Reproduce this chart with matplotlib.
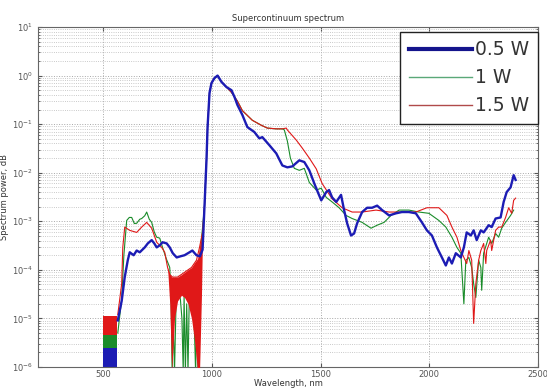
import matplotlib
matplotlib.use("Agg")
import matplotlib.pyplot as plt
from matplotlib.ticker import FixedLocator, NullFormatter, LogFormatterSciNotation

# ---------------- data ----------------
# 0.5 W (blue)
wl_blue = [567, 585, 599, 613, 622, 640, 654, 668, 691, 705, 723, 735, 746, 760, 773, 792,
           806, 820, 838, 855, 874, 897, 910, 929, 945, 957, 966, 975, 980, 989, 998, 1012,
           1026, 1044, 1067, 1090, 1104, 1117, 1140, 1163, 1195, 1218, 1232, 1264, 1296, 1324,
           1347, 1370, 1402, 1425, 1448, 1471, 1489, 1503, 1526, 1539, 1553, 1572, 1594, 1608,
           1622, 1640, 1654, 1668, 1691, 1714, 1737, 1760, 1783, 1815, 1847, 1874, 1906, 1938,
           1966, 1989, 2012, 2035, 2058, 2076, 2090, 2104, 2122, 2145, 2159, 2172, 2191, 2204,
           2218, 2237, 2250, 2273, 2287, 2305, 2328, 2342, 2356, 2374, 2388, 2397]
p_blue = [9.1e-6, 2.3e-5, 7.1e-5, 1.58e-4, 2.3e-4, 2.0e-4, 2.5e-4, 2.3e-4, 2.9e-4, 3.5e-4,
          4.1e-4, 3.5e-4, 2.9e-4, 3.2e-4, 3.7e-4, 3.5e-4, 2.9e-4, 2.2e-4, 1.8e-4, 1.9e-4,
          2.0e-4, 2.3e-4, 2.5e-4, 2.0e-4, 1.9e-4, 2.6e-4, 2.1e-3, 1.8e-2, 8.7e-2, 0.44, 0.70, 0.89,
          1.0, 0.74, 0.58, 0.50, 0.36, 0.25, 0.155, 0.087, 0.069, 0.051, 0.054, 0.037, 0.025, 0.0141,
          0.0129, 0.0135, 0.018, 0.0166, 0.0112, 0.006, 0.0038, 0.0027, 0.0040, 0.0044,
          0.0031, 0.0025, 0.0035, 0.0017, 0.00091, 0.00051, 0.00056, 0.00091, 0.00155, 0.0019,
          0.0019, 0.0021, 0.0017, 0.00132, 0.00146, 0.00155, 0.00155, 0.00146,
          0.00095, 0.00065, 0.00051, 0.00029, 0.00018, 0.000123, 0.00018, 0.000135, 0.00022,
          0.00018, 0.00029, 0.00059, 0.00051, 0.00065, 0.00041, 0.00065, 0.00059, 0.00083,
          0.00076, 0.00114, 0.0012, 0.0025, 0.0040, 0.0050, 0.0089, 0.0071]
# blue noise band at the short-wavelength edge
wl_blue_noise = [498, 562]
lo_blue_noise = [8e-7, 8e-7]
hi_blue_noise = [4.9e-6, 4.9e-6]

# 1 W (green)
wl_green = [567, 585, 595, 608, 620, 631, 643, 654, 668, 677, 691, 700, 712, 723, 735, 746,
            760, 773, 790, 806, 812, 817, 822, 828, 835, 845, 855, 862, 868, 872, 878, 884,
            890, 896, 905, 915, 925, 930, 936, 945, 955, 966, 975, 980, 989, 998, 1012,
            1026, 1044, 1067, 1090, 1117, 1140, 1186, 1227, 1255, 1296, 1324, 1333, 1347, 1361,
            1379, 1402, 1425, 1448, 1480, 1503, 1526, 1553, 1585, 1617, 1645, 1691, 1732, 1760,
            1792, 1824, 1861, 1906, 1952, 1998, 2044, 2076, 2104, 2127, 2145, 2159, 2168, 2182,
            2195, 2204, 2214, 2227, 2237, 2241, 2250, 2264, 2273, 2287, 2305, 2319, 2333, 2351,
            2374, 2388]
p_green = [5e-6, 2.5e-5, 2e-4, 1.04e-3, 1.2e-3, 1.2e-3, 9e-4, 9.1e-4, 1.1e-3, 1.14e-3, 1.3e-3,
           1.55e-3, 1.1e-3, 9.5e-4, 6e-4, 4.7e-4, 4.5e-4, 2.9e-4, 1.7e-4, 1.12e-4, 3e-5, 8e-7,
           1e-5, 8e-7, 2e-5, 3.5e-5, 2.5e-5, 1e-5, 8e-7, 3e-5, 8e-7, 2e-5, 8e-7, 3e-5, 4e-5,
           3e-5, 8e-7, 1e-5, 8e-7, 2e-4, 6e-4, 2.1e-3, 1.8e-2, 8.7e-2, 0.44, 0.70, 0.89,
           1.0, 0.74, 0.58, 0.45, 0.30, 0.19, 0.12, 0.095, 0.083, 0.080, 0.080, 0.076, 0.045, 0.02,
           0.0123, 0.0112, 0.0123, 0.0063, 0.0044, 0.0048, 0.0031, 0.0025, 0.0019, 0.00132,
           0.00114, 0.00095, 0.00072, 0.00083, 0.00095, 0.00132, 0.0017, 0.0017, 0.00155,
           0.00146, 0.00104, 0.00076, 0.00047, 0.00029, 0.00022, 2.0e-5, 0.000158, 0.00018,
           0.000112, 5.2e-5, 2.7e-5, 0.000158, 0.000112, 3.8e-5, 0.00022, 0.00035, 0.00047,
           0.00035, 0.00056, 0.00047, 0.00072, 0.00095, 0.00132, 0.0017]
wl_green_noise = [498, 562]
lo_green_noise = [2.5e-6, 2.5e-6]
hi_green_noise = [6e-6, 6e-6]

# 1.5 W (red)
wl_red = [567, 585, 590, 599, 622, 654, 677, 700, 723, 746, 769, 783, 796, 806, 819, 842,
          874, 906, 929, 943, 957, 966, 975, 980, 989, 998, 1012,
          1026, 1044, 1067, 1090, 1117, 1140, 1186, 1227, 1255, 1296, 1324, 1342, 1347, 1388,
          1416, 1448, 1480, 1507, 1553, 1599, 1645, 1691, 1755, 1815, 1874, 1938, 1989, 1998,
          2044, 2081, 2104, 2127, 2145, 2159, 2172, 2182, 2195, 2204, 2214, 2227, 2237, 2250,
          2260, 2264, 2282, 2287, 2305, 2319, 2333, 2351, 2365, 2379, 2388, 2397]
p_red = [1.2e-5, 5.2e-5, 2.9e-4, 7.6e-4, 6.5e-4, 5.9e-4, 7.6e-4, 9.5e-4, 7.2e-4, 3.7e-4,
         2.9e-4, 2.3e-4, 1.12e-4, 8e-5, 7.1e-5, 7.1e-5, 8.9e-5, 1.12e-4, 1.58e-4, 2.9e-4,
         6e-4, 2.1e-3, 1.8e-2, 8.7e-2, 0.44, 0.70, 0.89,
         1.0, 0.74, 0.58, 0.45, 0.30, 0.19, 0.12, 0.095, 0.083, 0.080, 0.080, 0.083, 0.076,
         0.047, 0.032, 0.02, 0.012, 0.006, 0.0029, 0.0019, 0.00155, 0.00155, 0.0017, 0.00155,
         0.00155, 0.00155, 0.0019, 0.0019, 0.0019, 0.00132, 0.00076, 0.00047, 0.00025,
         0.00018, 0.000135, 0.00025, 0.000158, 7.9e-6, 5.2e-5, 0.000158, 0.00025, 0.00035,
         0.000135, 0.00025, 0.00041, 0.00025, 0.00065, 0.00076, 0.00076, 0.0012, 0.0019,
         0.00146, 0.0027, 0.0030]
wl_red_noise = [498, 562]
lo_red_noise = [4.5e-6, 4.5e-6]
hi_red_noise = [1.1e-5, 1.1e-5]
# noisy band of the 1.5 W trace before the pump
wl_red_band = [796, 806, 815, 828, 842, 860, 874, 890, 906, 920, 934, 943, 952, 957]
lo_red_band = [1.12e-4, 2e-5, 8e-7, 1.0e-5, 2.3e-5, 3.0e-5, 2.7e-5, 2.0e-5, 1.0e-5, 3.5e-6,
               8e-7, 8e-7, 3e-5, 6e-4]
hi_red_band = [1.12e-4, 8e-5, 7.1e-5, 7.1e-5, 7.1e-5, 8e-5, 8.9e-5, 1.0e-4, 1.12e-4, 1.4e-4,
               1.7e-4, 2.9e-4, 4.5e-4, 6e-4]

labels = ["0.5 W", "1 W", "1.5 W"]
x_ticks = [500, 1000, 1500, 2000, 2500]
y_ticks = [1e-6, 1e-5, 1e-4, 1e-3, 1e-2, 1e-1, 1e0, 1e1]
y_minor_subs = [2, 3, 4, 5, 6, 7, 8, 9]

# ---------------- plot ----------------
C_BLUE = "#1c1cb4"
C_GREEN = "#1a8c2a"
C_RED = "#e01818"

fig = plt.figure(figsize=(5.47, 3.88), dpi=100)
ax = fig.add_axes([38 / 547, 21 / 388, 500 / 547, 340 / 388])

ax.fill_between(wl_blue_noise, lo_blue_noise, hi_blue_noise, color=C_BLUE, lw=0, zorder=2)
ax.plot(wl_blue, p_blue, color=C_BLUE, lw=1.7, zorder=5, label=labels[0])
ax.fill_between(wl_green_noise, lo_green_noise, hi_green_noise, color=C_GREEN, lw=0, zorder=3)
ax.plot(wl_green, p_green, color=C_GREEN, lw=0.8, zorder=3, label=labels[1])
ax.fill_between(wl_red_noise, lo_red_noise, hi_red_noise, color=C_RED, lw=0, zorder=4)
ax.fill_between(wl_red_band, lo_red_band, hi_red_band, color=C_RED, lw=0, zorder=4)
ax.plot(wl_red, p_red, color=C_RED, lw=0.8, zorder=4, label=labels[2])

ax.set_yscale("log")
ax.set_xlim(200, 2500)
ax.set_ylim(1e-6, 1e1)
ax.xaxis.set_major_locator(FixedLocator(x_ticks))
ax.yaxis.set_major_locator(FixedLocator(y_ticks))
ax.yaxis.set_major_formatter(LogFormatterSciNotation())
minor = [d * s for d in y_ticks[:-1] for s in y_minor_subs]
ax.yaxis.set_minor_locator(FixedLocator(minor))
ax.yaxis.set_minor_formatter(NullFormatter())

ax.grid(True, which="major", color="#a8a8a8", linestyle=":", linewidth=0.7)
ax.grid(True, which="minor", axis="y", color="#b8b8b8", linestyle=":", linewidth=0.6)
ax.tick_params(which="both", direction="in", top=True, right=True, labelsize=6,
               colors="#555555", length=3)
ax.tick_params(axis="x", pad=2)
ax.tick_params(which="minor", length=1.5)
for s in ax.spines.values():
    s.set_color("#666666")
    s.set_linewidth(0.8)

ax.set_title("Supercontinuum spectrum", fontsize=6, color="#333333", pad=4)
ax.set_xlabel("Wavelength, nm", fontsize=6, color="#333333", labelpad=0.5)
ax.set_ylabel("Spectrum power, dB", fontsize=6, color="#333333", labelpad=2)

leg = ax.legend(loc="upper right", bbox_to_anchor=(1.0, 1 - 5 / 340), fontsize=13.5,
                handlelength=3.35, handletextpad=0.2, borderaxespad=0.0, labelspacing=0.47,
                fancybox=False, framealpha=1, borderpad=0.45)
leg.get_frame().set_edgecolor("#222222")
leg.get_frame().set_linewidth(1.0)
for t in leg.get_texts():
    t.set_color("#333333")
leg.legend_handles[0].set_color("#14148c")
leg.legend_handles[0].set_linewidth(3.0)
leg.legend_handles[1].set_color("#5aa878")
leg.legend_handles[1].set_linewidth(1.0)
leg.legend_handles[2].set_color("#b04a4a")
leg.legend_handles[2].set_linewidth(1.0)

fig.savefig("out.png", dpi=100)
